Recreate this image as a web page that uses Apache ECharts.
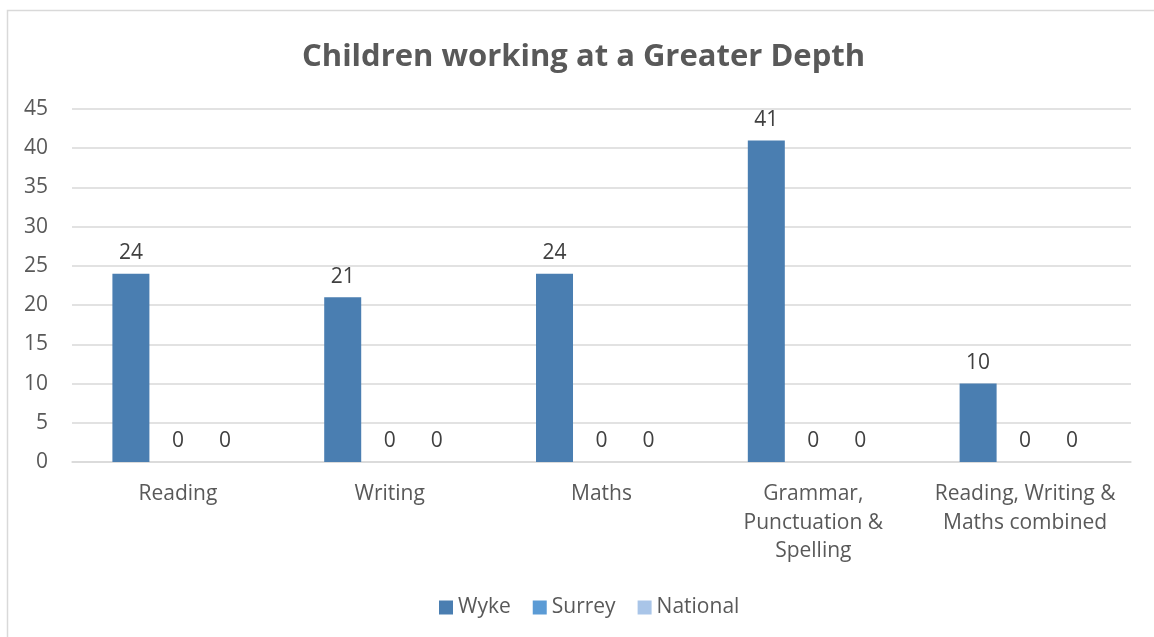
<!DOCTYPE html>
<html><head><meta charset="utf-8">
<script src="https://cdn.jsdelivr.net/npm/echarts@6/dist/echarts.min.js"></script>
<style>html,body{margin:0;padding:0;background:#fff}#c{width:1154px;height:637px}</style>
</head><body><div id="c"></div>
<script>
const categories = ["Reading", "Writing", "Maths", "Grammar,\nPunctuation &\nSpelling", "Reading, Writing &\nMaths combined"];
const wyke = [24, 21, 24, 41, 10];
const surrey = [0, 0, 0, 0, 0];
const national = [0, 0, 0, 0, 0];
const yTicks = {min: 0, max: 45, interval: 5};

const FONT = "Open Sans";
const chart = echarts.init(document.getElementById('c'));
const lbl = {show: true, position: 'top', color: '#404040', fontSize: 21, fontFamily: FONT, distance: 10};
chart.setOption({
  animation: false,
  textStyle: {fontFamily: FONT},
  graphic: [{type: 'rect', shape: {x: 7.5, y: 10.5, width: 1200, height: 700}, style: {fill: 'none', stroke: '#d9d9d9', lineWidth: 1.5}, silent: true}],
  title: {text: 'Children working at a Greater Depth', left: 297, top: 37,
    textStyle: {fontFamily: FONT, fontSize: 31, fontWeight: 'bold', color: '#595959'}},
  legend: {bottom: 14, left: 434, itemWidth: 14, itemHeight: 14, itemGap: 22, icon: 'rect',
    textStyle: {color: '#595959', fontSize: 21, fontFamily: FONT},
    data: ['Wyke', 'Surrey', 'National']},
  grid: {left: 72, right: 23, top: 109, bottom: 175},
  xAxis: {type: 'category', data: categories,
    axisLine: {lineStyle: {color: '#d9d9d9', width: 1.5}}, axisTick: {show: false},
    axisLabel: {color: '#595959', fontSize: 21, fontFamily: FONT, lineHeight: 28.5, margin: 18, interval: 0}},
  yAxis: {type: 'value', min: yTicks.min, max: yTicks.max, interval: yTicks.interval,
    axisLine: {show: false}, axisTick: {show: false},
    splitLine: {lineStyle: {color: '#d9d9d9', width: 1.5}},
    axisLabel: {color: '#595959', fontSize: 21, fontFamily: FONT, margin: 24}},
  series: [
    {name: 'Wyke', type: 'bar', data: wyke, itemStyle: {color: '#4a7eb1'}, barWidth: 37, barGap: '27%', label: lbl},
    {name: 'Surrey', type: 'bar', data: surrey, itemStyle: {color: '#5b9bd5'}, barWidth: 37, label: lbl},
    {name: 'National', type: 'bar', data: national, itemStyle: {color: '#a9c5e8'}, barWidth: 37, label: lbl}
  ]
});
</script></body></html>
